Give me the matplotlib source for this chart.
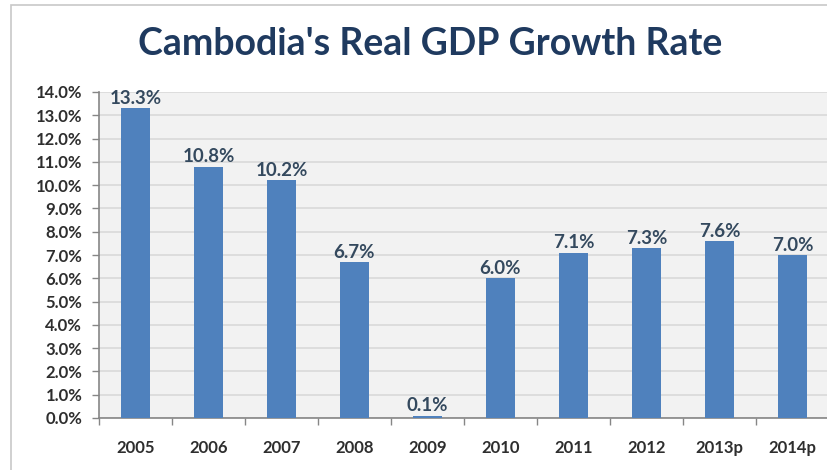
import matplotlib
matplotlib.use("Agg")
import matplotlib.pyplot as plt
from matplotlib.patches import Rectangle
from matplotlib.ticker import FixedLocator

categories = ["2005", "2006", "2007", "2008", "2009", "2010", "2011", "2012", "2013p", "2014p"]
growth = [13.3, 10.8, 10.2, 6.7, 0.1, 6.0, 7.1, 7.3, 7.6, 7.0]
labels = ["13.3%", "10.8%", "10.2%", "6.7%", "0.1%", "6.0%", "7.1%", "7.3%", "7.6%", "7.0%"]
yticks = list(range(0, 15))
ytick_labels = [f"{t:.1f}%" for t in yticks]
title = "Cambodia's Real GDP Growth Rate"

plt.rcParams['font.family'] = ['Lato', 'DejaVu Sans']

W, H = 827, 470
fig = plt.figure(figsize=(W / 100, H / 100), dpi=100)
fig.patch.set_facecolor("white")

# outer chart border
fig.add_artist(Rectangle((11 / W, -0.05), 1.2, 1 - 5 / H + 0.05, transform=fig.transFigure,
                         fill=False, edgecolor="#C8C8C8", linewidth=1.2))

ax = fig.add_axes([99 / W, 1 - 418 / H, 730 / W, (418 - 92) / H])
ax.set_facecolor("#F2F2F2")

x = list(range(len(categories)))
ax.bar(x, growth, width=0.4, color="#4F81BD", zorder=3)

for xi, v, lab in zip(x, growth, labels):
    ax.annotate(lab, (xi, v), xytext=(0, 1.0), textcoords="offset points",
                ha="center", va="bottom", fontsize=13.5, fontweight="bold",
                color="#34495E", zorder=4)

ax.set_xlim(-0.5, len(categories) - 0.5)
ax.set_ylim(0, 14)
ax.set_yticks(yticks)
ax.set_yticklabels(ytick_labels)
ax.grid(axis="y", color="#D9D9D9", linewidth=1.2, zorder=0)

ax.set_xticks(x)
ax.set_xticklabels(categories)
ax.xaxis.set_minor_locator(FixedLocator([i - 0.5 for i in range(len(categories) + 1)]))
ax.tick_params(axis="x", which="major", length=0, pad=16, labelsize=12, labelcolor="#2E2E2E")
ax.tick_params(axis="x", which="minor", length=5, width=1, color="#868686", direction="out")
ax.tick_params(axis="y", which="major", length=5, width=1, color="#868686", pad=7,
               labelsize=12, labelcolor="#2E2E2E")
for lab in ax.get_xticklabels() + ax.get_yticklabels():
    lab.set_fontweight("bold")

for s in ["top", "right"]:
    ax.spines[s].set_visible(False)
for s in ["left", "bottom"]:
    ax.spines[s].set_color("#868686")
    ax.spines[s].set_linewidth(1.2)

fig.text(430 / W, 1 - 44 / H, title, ha="center", va="center", fontsize=27,
         fontweight="bold", color="#1F3A5F")

fig.savefig("out.png", dpi=100)
